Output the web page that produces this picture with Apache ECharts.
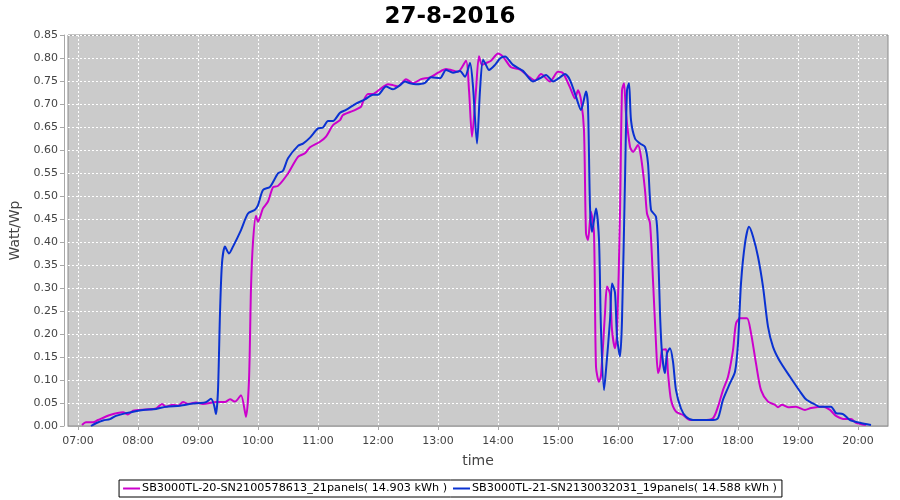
<!DOCTYPE html>
<html>
<head>
<meta charset="utf-8">
<script src="https://cdn.jsdelivr.net/npm/echarts@6/dist/echarts.min.js"></script>
<style>html,body{margin:0;padding:0;background:#fff}#c{width:900px;height:500px}</style>
</head>
<body>
<div id="c"></div>
<script>
var title = '27-8-2016';
var seriesNames = ['SB3000TL-20-SN2100578613_21panels( 14.903 kWh )', 'SB3000TL-21-SN2130032031_19panels( 14.588 kWh )'];
var xTickLabels = ['07:00','08:00','09:00','10:00','11:00','12:00','13:00','14:00','15:00','16:00','17:00','18:00','19:00','20:00'];
var yTickLabels = ['0.00','0.05','0.10','0.15','0.20','0.25','0.30','0.35','0.40','0.45','0.50','0.55','0.60','0.65','0.70','0.75','0.80','0.85'];

var times1 = ['07:04','07:08','07:15','07:20','07:32','07:45','07:50','07:55','08:08','08:18','08:24','08:28','08:35','08:40','08:45','08:50','08:58','09:05','09:18','09:27','09:32','09:37','09:43','09:48','09:51','09:53','09:55','09:58','10:00','10:05','10:10','10:15','10:20','10:30','10:40','10:47','10:52','11:02','11:08','11:15','11:22','11:25','11:35','11:43','11:45','11:50','11:55','12:02','12:10','12:15','12:20','12:28','12:35','12:43','12:52','13:00','13:08','13:20','13:28','13:31','13:34','13:38','13:41','13:44','13:48','13:53','14:00','14:05','14:13','14:22','14:30','14:37','14:43','14:52','15:00','15:05','15:12','15:17','15:20','15:23','15:26','15:28','15:30','15:33','15:36','15:38','15:41','15:43','15:47','15:49','15:52','15:54','15:57','15:59','16:02','16:04','16:06','16:08','16:12','16:15','16:20','16:23','16:27','16:29','16:32','16:35','16:38','16:40','16:42','16:44','16:48','16:50','16:53','16:58','17:05','17:12','17:25','17:35','17:40','17:45','17:50','17:55','17:58','18:02','18:09','18:13','18:18','18:23','18:30','18:37','18:40','18:44','18:50','18:58','19:07','19:13','19:25','19:32','19:38','19:47','19:53','19:58','20:08'];
var values1 = [0.002,0.008,0.008,0.013,0.024,0.030,0.025,0.033,0.036,0.038,0.048,0.042,0.046,0.044,0.052,0.048,0.051,0.048,0.052,0.052,0.058,0.053,0.067,0.020,0.100,0.300,0.400,0.457,0.444,0.473,0.488,0.519,0.522,0.549,0.585,0.593,0.606,0.618,0.629,0.654,0.665,0.676,0.685,0.694,0.705,0.722,0.722,0.732,0.743,0.741,0.738,0.754,0.745,0.754,0.758,0.768,0.776,0.770,0.794,0.730,0.629,0.730,0.804,0.785,0.789,0.794,0.810,0.803,0.780,0.775,0.761,0.751,0.765,0.749,0.770,0.767,0.736,0.712,0.730,0.709,0.643,0.419,0.404,0.466,0.419,0.129,0.096,0.110,0.245,0.303,0.288,0.209,0.169,0.200,0.462,0.730,0.745,0.680,0.607,0.596,0.611,0.585,0.513,0.462,0.441,0.317,0.180,0.115,0.130,0.165,0.167,0.115,0.057,0.031,0.024,0.013,0.013,0.017,0.042,0.078,0.107,0.165,0.223,0.234,0.234,0.202,0.136,0.078,0.053,0.046,0.041,0.046,0.041,0.042,0.035,0.039,0.042,0.035,0.022,0.015,0.015,0.007,0.002];

var times2 = ['07:13','07:18','07:25','07:32','07:38','07:48','08:05','08:18','08:28','08:42','08:55','09:02','09:08','09:13','09:16','09:18','09:20','09:22','09:24','09:27','09:31','09:35','09:43','09:50','09:57','10:00','10:05','10:12','10:20','10:25','10:30','10:40','10:45','10:52','11:00','11:05','11:10','11:15','11:22','11:28','11:38','11:47','11:55','12:00','12:08','12:15','12:22','12:27','12:32','12:38','12:47','12:53','13:02','13:08','13:15','13:22','13:27','13:32','13:35','13:39','13:42','13:45','13:48','13:51','13:57','14:02','14:07','14:15','14:25','14:35','14:42','14:48','14:55','15:02','15:07','15:12','15:18','15:23','15:28','15:30','15:32','15:34','15:38','15:41','15:43','15:46','15:48','15:52','15:54','15:57','15:59','16:02','16:04','16:07','16:09','16:11','16:13','16:17','16:22','16:27','16:30','16:33','16:38','16:40','16:42','16:44','16:47','16:49','16:52','16:55','16:58','17:03','17:08','17:15','17:35','17:40','17:45','17:52','17:57','18:00','18:03','18:07','18:11','18:15','18:20','18:25','18:30','18:35','18:42','18:52','19:02','19:08','19:15','19:22','19:33','19:38','19:45','19:52','20:02','20:13'];
var values2 = [0.000,0.006,0.012,0.015,0.022,0.028,0.035,0.037,0.042,0.044,0.049,0.050,0.052,0.059,0.046,0.026,0.078,0.245,0.354,0.390,0.375,0.390,0.426,0.462,0.470,0.480,0.513,0.520,0.549,0.555,0.582,0.609,0.614,0.627,0.647,0.649,0.663,0.663,0.681,0.687,0.701,0.710,0.720,0.720,0.738,0.732,0.741,0.749,0.745,0.743,0.746,0.758,0.756,0.774,0.768,0.772,0.759,0.789,0.738,0.614,0.730,0.796,0.785,0.774,0.785,0.799,0.803,0.785,0.772,0.749,0.756,0.763,0.749,0.758,0.765,0.752,0.716,0.687,0.727,0.694,0.477,0.422,0.473,0.404,0.209,0.078,0.122,0.230,0.310,0.290,0.194,0.151,0.230,0.535,0.730,0.745,0.665,0.625,0.614,0.607,0.571,0.470,0.455,0.390,0.245,0.158,0.115,0.158,0.169,0.140,0.078,0.038,0.020,0.013,0.013,0.017,0.057,0.093,0.118,0.180,0.310,0.397,0.433,0.412,0.368,0.303,0.216,0.172,0.140,0.107,0.075,0.058,0.049,0.042,0.042,0.028,0.026,0.013,0.007,0.002];

function toMin(s){var p=s.split(':');return +p[0]*60 + +p[1];}
function pairs(t,v){return t.map(function(s,i){return [toMin(s), v[i]];});}
var xTickValues = xTickLabels.map(toMin);

var FONT = 'DejaVu Sans';
var chart = echarts.init(document.getElementById('c'), null, {renderer:'canvas'});
chart.setOption({
  animation: false,
  backgroundColor: '#ffffff',
  title: {
    text: title, left: 'center', top: 1,
    textStyle: {fontFamily: FONT, fontWeight: 'bold', fontSize: 23, color: '#000'}
  },
  legend: {
    bottom: 3, left: 'center',
    data: seriesNames,
    icon: 'rect', itemWidth: 17, itemHeight: 2, itemGap: 6,
    padding: [3, 5, 3, 4],
    borderColor: '#000', borderWidth: 1, backgroundColor: '#fff',
    textStyle: {fontFamily: FONT, fontSize: 11.2, color: '#000', padding: [0,0,0,-3]}
  },
  grid: {
    left: 68, right: 12, top: 35, bottom: 74,
    show: true, backgroundColor: '#cbcbcb', borderColor: '#8a8a8a', borderWidth: 1
  },
  xAxis: {
    type: 'value', min: 410, max: 1230, offset: 4,
    name: 'time', nameLocation: 'middle', nameGap: 24,
    nameTextStyle: {fontFamily: FONT, fontSize: 14, color: '#444'},
    axisLine: {show: true, lineStyle: {color: '#a8a8a8', width: 1}},
    axisTick: {show: true, length: 4, lineStyle: {color: '#a8a8a8'}, customValues: xTickValues},
    axisLabel: {
      customValues: xTickValues, margin: 6,
      fontFamily: FONT, fontSize: 11, color: '#444',
      formatter: function(v){var i = xTickValues.indexOf(v); return i >= 0 ? xTickLabels[i] : '';}
    },
    splitLine: {show: true, lineStyle: {color: '#ffffff', type: [2, 2], width: 1}}
  },
  yAxis: {
    type: 'value', min: 0, max: 0.85, interval: 0.05, offset: 4,
    name: 'Watt/Wp', nameLocation: 'middle', nameGap: 36,
    nameTextStyle: {fontFamily: FONT, fontSize: 14, color: '#444'},
    axisLine: {show: true, lineStyle: {color: '#a8a8a8', width: 1}},
    axisTick: {show: true, length: 4, lineStyle: {color: '#a8a8a8'}},
    axisLabel: {
      margin: 6, fontFamily: FONT, fontSize: 11, color: '#444',
      formatter: function(v){var i = Math.round(v / 0.05); return yTickLabels[i] || '';}
    },
    splitLine: {show: true, lineStyle: {color: '#ffffff', type: [2, 2], width: 1}}
  },
  series: [
    {name: seriesNames[0], type: 'line', data: pairs(times1, values1), showSymbol: false,
     smooth: 0.25, lineStyle: {color: '#cc00cc', width: 2}, itemStyle: {color: '#cc00cc'}},
    {name: seriesNames[1], type: 'line', data: pairs(times2, values2), showSymbol: false,
     smooth: 0.25, lineStyle: {color: '#0a32d2', width: 2}, itemStyle: {color: '#0a32d2'}}
  ]
});
</script>
</body>
</html>
